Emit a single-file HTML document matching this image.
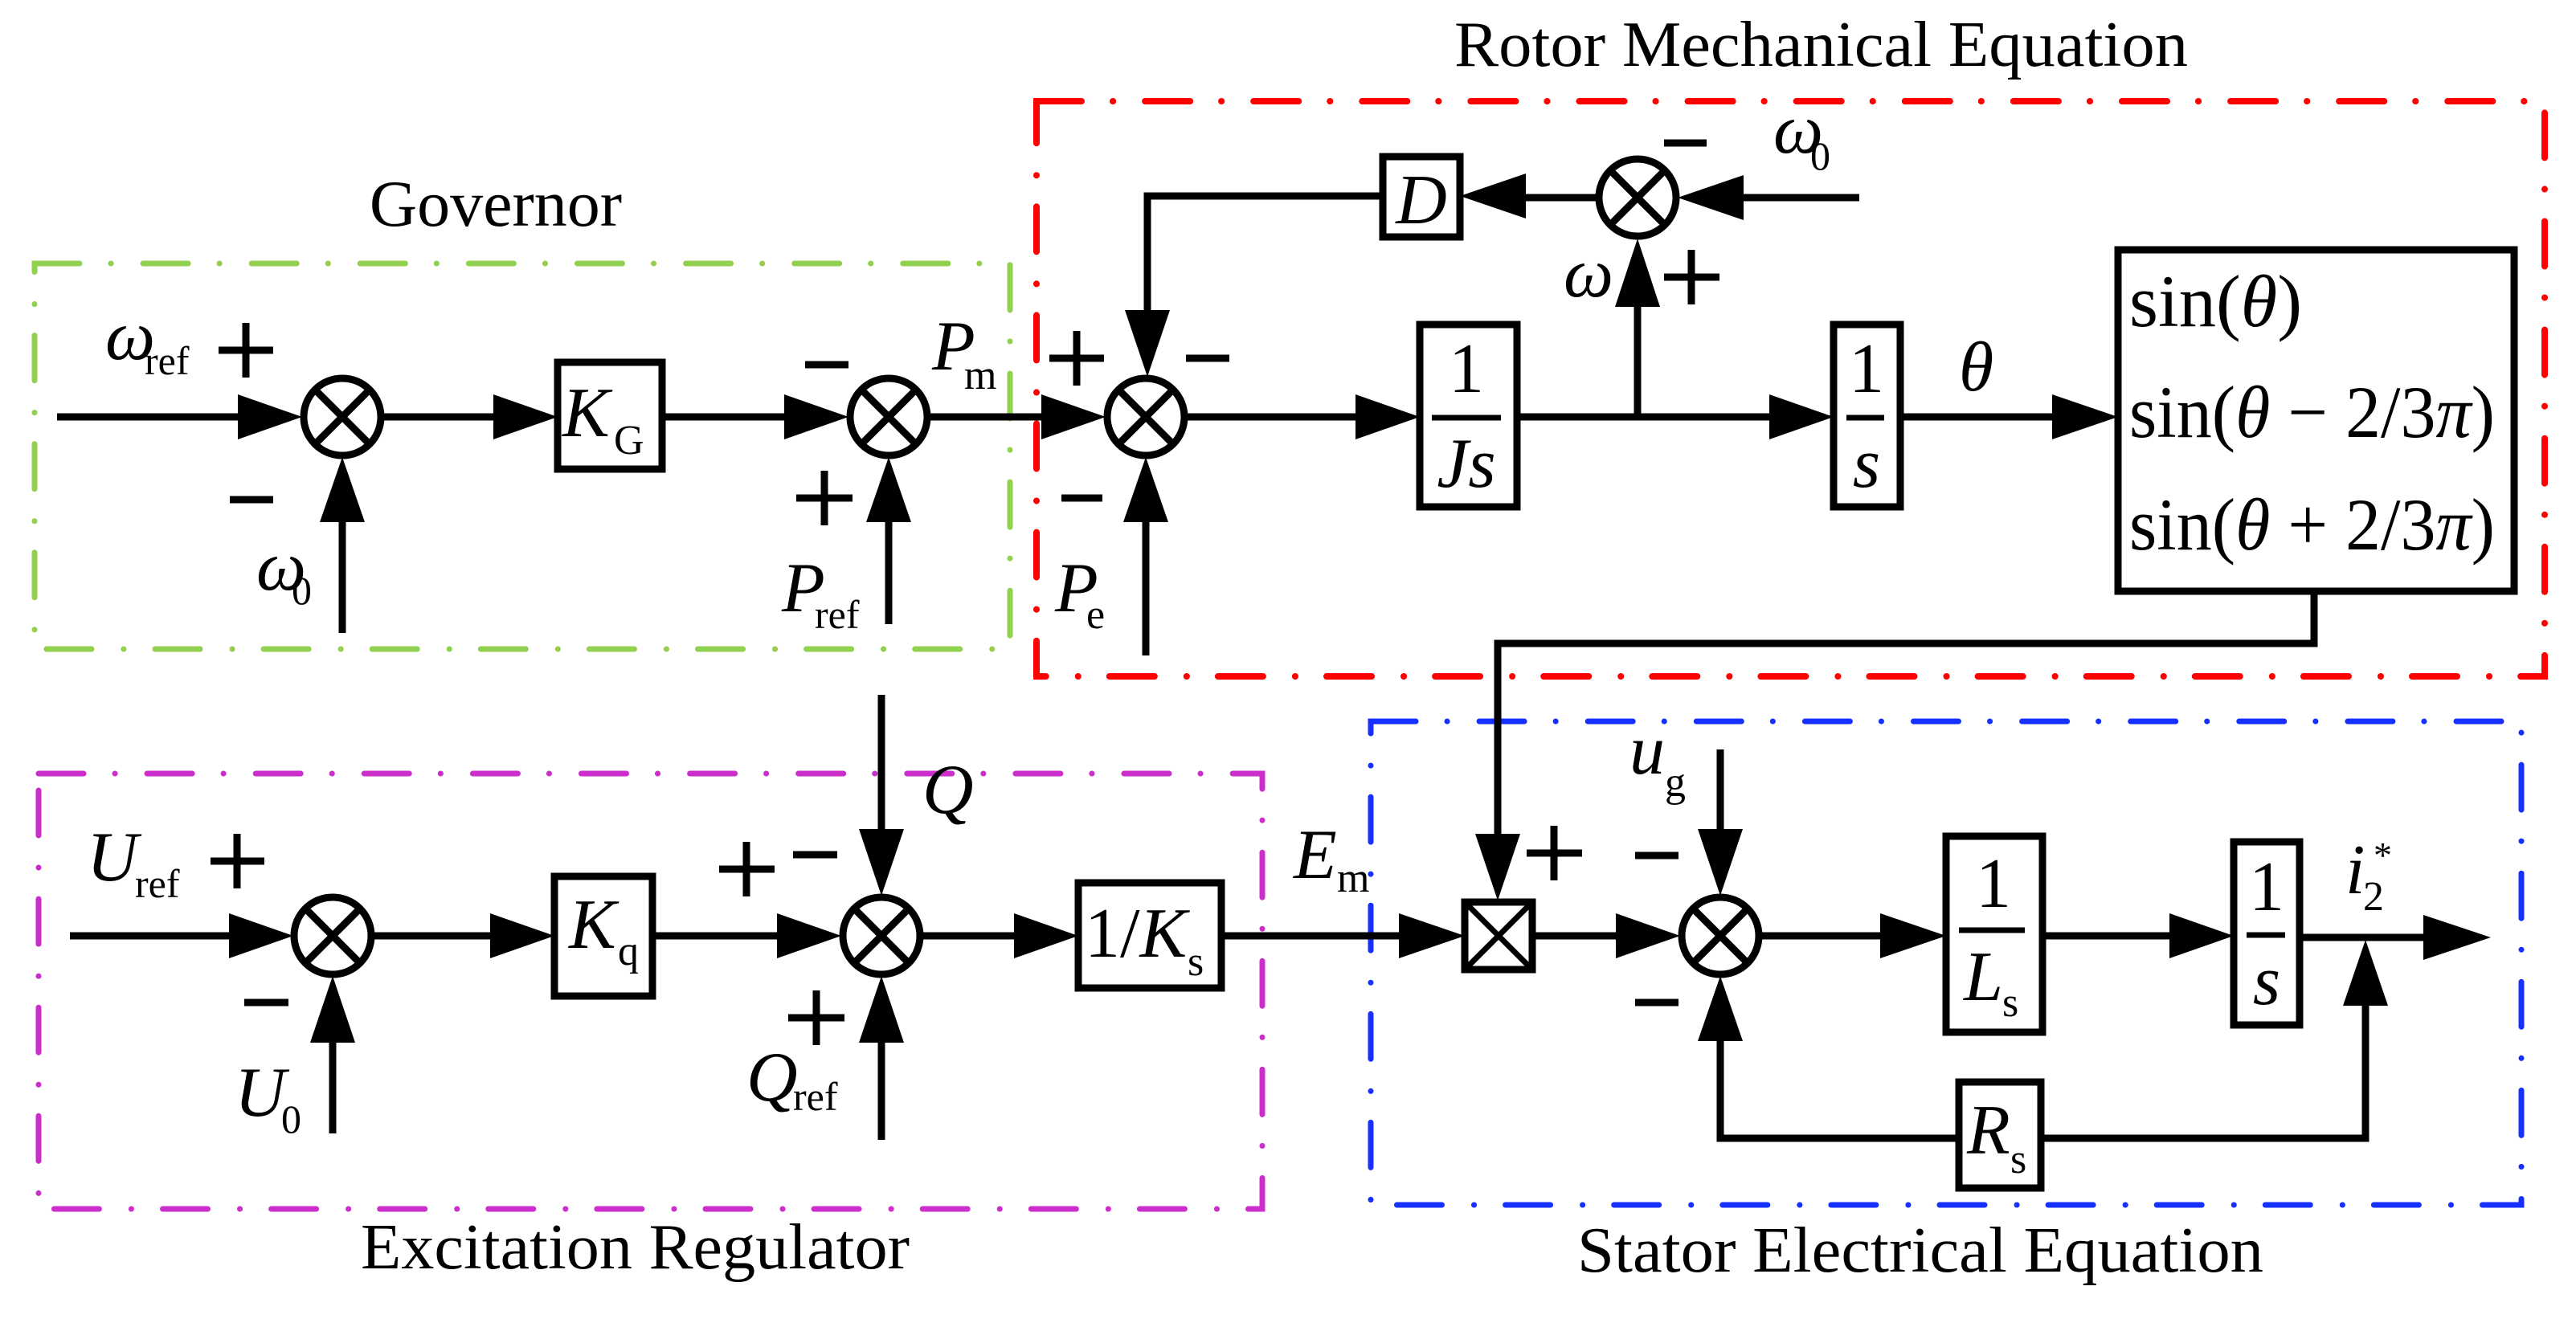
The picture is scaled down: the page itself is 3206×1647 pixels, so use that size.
<!DOCTYPE html>
<html><head><meta charset="utf-8"><style>
html,body{margin:0;padding:0;background:#fff;}
svg{display:block;}
text{font-family:"Liberation Serif",serif;fill:#000;}
.i{font-style:italic;}
</style></head><body>
<svg width="3206" height="1647" viewBox="0 0 3206 1647" xmlns="http://www.w3.org/2000/svg">
<g fill="none" stroke-width="7" stroke-linecap="round">
<rect x="43" y="328" width="1214" height="480" stroke="#92d050" stroke-dasharray="56 39 0.1 40"/>
<rect x="1290" y="126" width="1877" height="716" stroke="#ff0000" stroke-width="8" stroke-dasharray="56 39 0.1 40"/>
<rect x="48" y="963" width="1523" height="542" stroke="#cc2ecc" stroke-dasharray="56 39 0.1 40"/>
<rect x="1706" y="898" width="1432" height="602" stroke="#1530ff" stroke-dasharray="56 39 0.1 40"/>
</g>

<g stroke="#000" stroke-width="9" fill="none">
<line x1="71" y1="519" x2="300" y2="519"/>
<line x1="474" y1="519" x2="618" y2="519"/>
<line x1="824" y1="519" x2="980" y2="519"/>
<line x1="1154" y1="519" x2="1299" y2="519"/>
<line x1="1474" y1="519" x2="1691" y2="519"/>
<line x1="1888" y1="519" x2="2205" y2="519"/>
<line x1="2365" y1="519" x2="2556" y2="519"/>
<line x1="2038" y1="519" x2="2038" y2="378"/>
<line x1="2314" y1="246" x2="2168" y2="246"/>
<line x1="1990" y1="246" x2="1897" y2="246"/>
<polyline points="1721,244 1428,244 1428,392"/>
<line x1="426" y1="788" x2="426" y2="646"/>
<line x1="1106" y1="777" x2="1106" y2="646"/>
<line x1="1426" y1="816" x2="1426" y2="646"/>
<polyline points="2880,736 2880,801 1864,801 1864,1042"/>
<line x1="87" y1="1165" x2="288" y2="1165"/>
<line x1="462" y1="1165" x2="612" y2="1165"/>
<line x1="812" y1="1165" x2="970" y2="1165"/>
<line x1="1145" y1="1165" x2="1266" y2="1165"/>
<line x1="1520" y1="1165" x2="1745" y2="1165"/>
<line x1="1907" y1="1165" x2="2014" y2="1165"/>
<line x1="2189" y1="1165" x2="2343" y2="1165"/>
<line x1="2542" y1="1165" x2="2703" y2="1165"/>
<line x1="2862" y1="1167" x2="3020" y2="1167"/>
<line x1="1097" y1="865" x2="1097" y2="1036"/>
<line x1="1097" y1="1419" x2="1097" y2="1294"/>
<line x1="414" y1="1411" x2="414" y2="1294"/>
<line x1="2141" y1="933" x2="2141" y2="1036"/>
<polyline points="2141,1296 2141,1417 2944,1417 2944,1248"/>
</g>

<g fill="#000">
<polygon points="376,519 296,491 296,547"/>
<polygon points="694,519 614,491 614,547"/>
<polygon points="1056,519 976,491 976,547"/>
<polygon points="1376,519 1296,491 1296,547"/>
<polygon points="1767,519 1687,491 1687,547"/>
<polygon points="2282,519 2202,491 2202,547"/>
<polygon points="2636,519 2554,491 2554,547"/>
<polygon points="2038,297 2010,382 2066,382"/>
<polygon points="2088,246 2170,218 2170,274"/>
<polygon points="1817,244 1899,216 1899,272"/>
<polygon points="1428,469 1400,386 1456,386"/>
<polygon points="426,569 398,650 454,650"/>
<polygon points="1106,569 1078,650 1134,650"/>
<polygon points="1426,569 1398,650 1454,650"/>
<polygon points="1864,1121 1836,1038 1892,1038"/>
<polygon points="365,1165 285,1137 285,1193"/>
<polygon points="690,1165 610,1137 610,1193"/>
<polygon points="1047,1165 967,1137 967,1193"/>
<polygon points="1342,1165 1262,1137 1262,1193"/>
<polygon points="1823,1165 1741,1137 1741,1193"/>
<polygon points="2091,1165 2011,1137 2011,1193"/>
<polygon points="2422,1165 2340,1137 2340,1193"/>
<polygon points="2780,1165 2700,1137 2700,1193"/>
<polygon points="3100,1167 3016,1139 3016,1195"/>
<polygon points="1097,1115 1069,1032 1125,1032"/>
<polygon points="1097,1215 1069,1298 1125,1298"/>
<polygon points="414,1215 386,1298 442,1298"/>
<polygon points="2141,1115 2113,1032 2169,1032"/>
<polygon points="2141,1215 2113,1296 2169,1296"/>
<polygon points="2944,1170 2916,1252 2972,1252"/>
</g>

<g stroke="#000" stroke-width="9" fill="#fff">
<g><circle cx="426" cy="519" r="48"/><path d="M392,485 L460,553 M460,485 L392,553"/></g>
<g><circle cx="1106" cy="519" r="48"/><path d="M1072,485 L1140,553 M1140,485 L1072,553"/></g>
<g><circle cx="1426" cy="519" r="48"/><path d="M1392,485 L1460,553 M1460,485 L1392,553"/></g>
<g><circle cx="2038" cy="246" r="48"/><path d="M2004,212 L2072,280 M2072,212 L2004,280"/></g>
<g><circle cx="414" cy="1165" r="48"/><path d="M380,1131 L448,1199 M448,1131 L380,1199"/></g>
<g><circle cx="1097" cy="1165" r="48"/><path d="M1063,1131 L1131,1199 M1131,1131 L1063,1199"/></g>
<g><circle cx="2141" cy="1165" r="48"/><path d="M2107,1131 L2175,1199 M2175,1131 L2107,1199"/></g>
</g>

<g stroke="#000" stroke-width="9" fill="#fff">
<rect x="694" y="451" width="130" height="133"/>
<rect x="1721" y="195" width="96" height="100"/>
<rect x="1767" y="404" width="121" height="227"/>
<rect x="2282" y="404" width="83" height="227"/>
<rect x="2636" y="311" width="493" height="425"/>
<rect x="690" y="1091" width="122" height="149"/>
<rect x="1342" y="1099" width="178" height="131"/>
<rect x="1823" y="1123" width="84" height="84"/>
<rect x="2422" y="1041" width="120" height="244"/>
<rect x="2780" y="1048" width="82" height="228"/>
<rect x="2438" y="1347" width="102" height="132"/>
</g>
<g stroke="#000" stroke-width="7">
<path d="M1827,1127 L1903,1203 M1903,1127 L1827,1203"/>
<line x1="1782" y1="520" x2="1868" y2="520"/>
<line x1="2298" y1="520" x2="2345" y2="520"/>
<line x1="2438" y1="1158" x2="2520" y2="1158"/>
<line x1="2796" y1="1164" x2="2844" y2="1164"/>
</g>

<g stroke="#000" stroke-width="9">
<path d="M272,436 H340 M306,402 V470"/>
<path d="M286,622 H340"/>
<path d="M1002,454 H1056"/>
<path d="M991,620 H1061 M1026,586 V654"/>
<path d="M1306,446 H1374 M1340,412 V480"/>
<path d="M1476,446 H1530"/>
<path d="M1321,620 H1372"/>
<path d="M2071,178 H2124"/>
<path d="M2071,345 H2140 M2105,311 V379"/>
<path d="M262,1072 H329 M295,1038 V1106"/>
<path d="M304,1248 H359"/>
<path d="M895,1082 H964 M929,1048 V1116"/>
<path d="M987,1064 H1042"/>
<path d="M981,1267 H1051 M1016,1233 V1301"/>
<path d="M1900,1062 H1969 M1934,1028 V1096"/>
<path d="M2035,1065 H2089"/>
<path d="M2035,1248 H2089"/>
</g>

<text x="617" y="281" font-size="82" text-anchor="middle">Governor</text>
<text x="1810" y="82" font-size="80" textLength="913" lengthAdjust="spacingAndGlyphs">Rotor Mechanical Equation</text>
<text x="449" y="1579" font-size="80" textLength="683" lengthAdjust="spacingAndGlyphs">Excitation Regulator</text>
<text x="1963" y="1583" font-size="80" textLength="854" lengthAdjust="spacingAndGlyphs">Stator Electrical Equation</text>

<g font-size="88">
<text x="131" y="447" class="i">ω</text><text x="180" y="466" font-size="50">ref</text>
<text x="319" y="734" class="i">ω</text><text x="363" y="752" font-size="50">0</text>
<text x="700" y="543" class="i">K</text><text x="764" y="565" font-size="52">G</text>
<text x="1160" y="460" class="i">P</text><text x="1200" y="484" font-size="52">m</text>
<text x="973" y="761" class="i">P</text><text x="1014" y="782" font-size="50">ref</text>
<text x="1313" y="761" class="i">P</text><text x="1352" y="782" font-size="52">e</text>
<text x="1946" y="369" class="i">ω</text>
<text x="2207" y="190" class="i">ω</text><text x="2253" y="211" font-size="50">0</text>
<text x="1769" y="278" class="i" text-anchor="middle">D</text>
<text x="1825" y="488" text-anchor="middle">1</text>
<text x="1825" y="606" class="i" text-anchor="middle">Js</text>
<text x="2323" y="488" text-anchor="middle">1</text>
<text x="2323" y="606" class="i" text-anchor="middle">s</text>
<text x="2438" y="486" class="i">θ</text>
<g font-size="92">
<text x="2650" y="406" textLength="215" lengthAdjust="spacingAndGlyphs">sin(<tspan class="i">θ</tspan>)</text>
<text x="2650" y="544" textLength="455" lengthAdjust="spacingAndGlyphs">sin(<tspan class="i">θ</tspan> − 2/3<tspan class="i">π</tspan>)</text>
<text x="2650" y="684" textLength="455" lengthAdjust="spacingAndGlyphs">sin(<tspan class="i">θ</tspan> + 2/3<tspan class="i">π</tspan>)</text>
</g>
<text x="108" y="1096" class="i">U</text><text x="168" y="1117" font-size="50">ref</text>
<text x="292" y="1389" class="i">U</text><text x="350" y="1410" font-size="50">0</text>
<text x="708" y="1180" class="i">K</text><text x="769" y="1201" font-size="52">q</text>
<text x="1148" y="1012" class="i">Q</text>
<text x="929" y="1370" class="i">Q</text><text x="987" y="1382" font-size="50">ref</text>
<text x="1350" y="1191">1/<tspan class="i">K</tspan></text><text x="1478" y="1214" font-size="52">s</text>
<text x="1610" y="1093" class="i">E</text><text x="1664" y="1110" font-size="52">m</text>
<text x="2028" y="963" class="i">u</text><text x="2072" y="991" font-size="52">g</text>
<text x="2481" y="1129" text-anchor="middle">1</text>
<text x="2444" y="1245" class="i">L</text><text x="2492" y="1265" font-size="52">s</text>
<text x="2821" y="1133" text-anchor="middle">1</text>
<text x="2821" y="1250" class="i" text-anchor="middle">s</text>
<text x="2919" y="1112" class="i">i</text><text x="2941" y="1133" font-size="52">2</text><text x="2954" y="1080" font-size="46">*</text>
<text x="2448" y="1436" class="i">R</text><text x="2502" y="1460" font-size="52">s</text>
</g>
</svg>
</body></html>
